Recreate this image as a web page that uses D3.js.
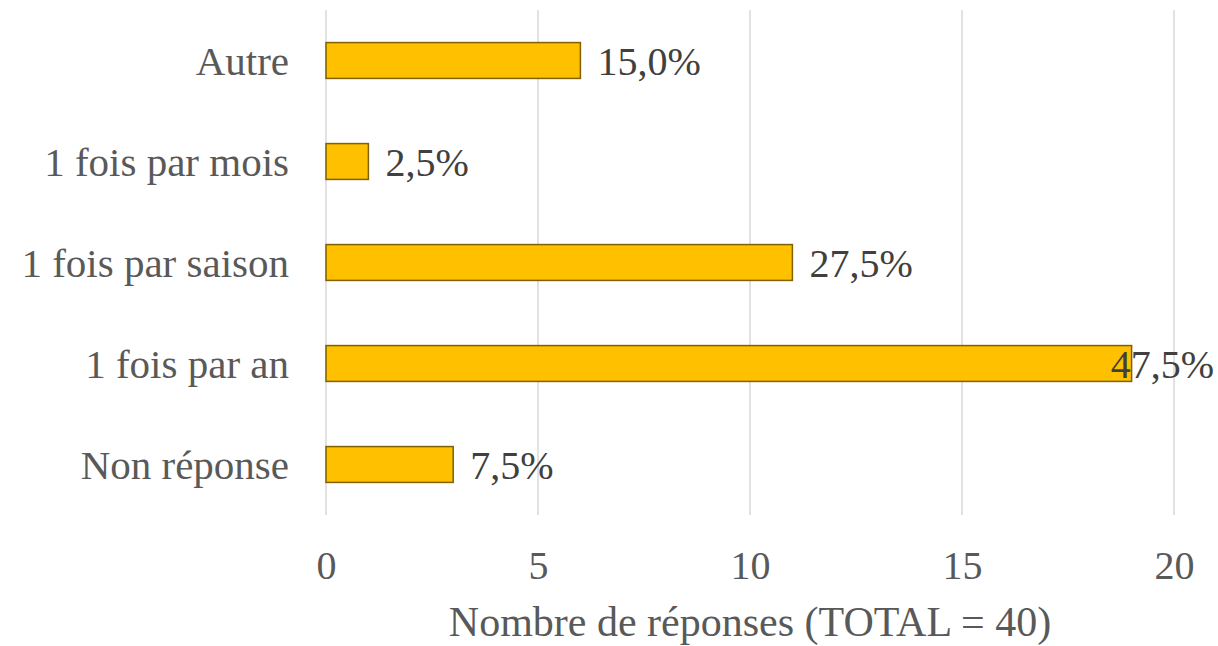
<!DOCTYPE html>
<html>
<head>
<meta charset="utf-8">
<script src="https://cdn.jsdelivr.net/npm/d3@7"></script>
<style>
  html, body { margin: 0; padding: 0; background: #ffffff; }
  svg { display: block; }
  text { font-family: "Liberation Serif", "DejaVu Serif", serif; }
</style>
</head>
<body>
<svg id="chart" width="1218" height="646"></svg>
<script>
// Fréquence des réponses (TOTAL = 40)
const categories = ["Autre", "1 fois par mois", "1 fois par saison", "1 fois par an", "Non réponse"];
const counts = [6, 1, 11, 19, 3];
const percentLabels = ["15,0%", "2,5%", "27,5%", "47,5%", "7,5%"];
const xTicks = [0, 5, 10, 15, 20];
const axisTitle = "Nombre de réponses (TOTAL = 40)";

const svg = d3.select("#chart");
const W = 1218, H = 646;
const margin = { left: 326, right: 44, top: 10, bottom: 131 };
const plotRight = W - margin.right;
const plotBottom = H - margin.bottom;

const x = d3.scaleLinear().domain([0, 20]).range([margin.left, plotRight]);
const y = d3.scaleBand().domain(categories).range([margin.top, plotBottom]).paddingInner(0.645).paddingOuter(0.3225);

// Vertical gridlines
svg.append("g")
  .selectAll("line")
  .data(xTicks)
  .join("line")
  .attr("x1", d => x(d)).attr("x2", d => x(d))
  .attr("y1", margin.top).attr("y2", plotBottom)
  .attr("stroke", "#d9d9d9").attr("stroke-width", 1.5);

// Bars
svg.append("g")
  .selectAll("rect")
  .data(categories)
  .join("rect")
  .attr("x", x(0))
  .attr("y", d => y(d))
  .attr("width", (d, i) => x(counts[i]) - x(0))
  .attr("height", y.bandwidth())
  .attr("fill", "#ffc000")
  .attr("stroke", "#806000")
  .attr("stroke-width", 1.5);

// Value labels (percentage of total)
const labelG = svg.append("g");
categories.forEach((c, i) => {
  const t = labelG.append("text")
    .attr("x", x(counts[i]) + 17)
    .attr("y", y(c) + y.bandwidth() / 2)
    .attr("dy", "0.35em")
    .attr("font-size", 40)
    .attr("fill", "#404040")
    .text(percentLabels[i]);
  const w = t.node().getComputedTextLength();
  if (x(counts[i]) + 17 + w > W - 4) {
    t.attr("text-anchor", "end").attr("x", W - 4);
  }
});

// Category axis labels
svg.append("g")
  .selectAll("text")
  .data(categories)
  .join("text")
  .attr("x", margin.left - 37)
  .attr("y", d => y(d) + y.bandwidth() / 2)
  .attr("dy", "0.35em")
  .attr("text-anchor", "end")
  .attr("font-size", 41)
  .attr("fill", "#595959")
  .text(d => d);

// X axis tick labels
const xAxis = d3.axisBottom(x).tickValues(xTicks).tickSize(0).tickPadding(0);
const gx = svg.append("g")
  .attr("transform", `translate(0, ${plotBottom + 64})`)
  .call(xAxis);
gx.select(".domain").remove();
gx.selectAll("text")
  .attr("font-size", 40)
  .attr("fill", "#595959")
  .attr("font-family", "Liberation Serif, DejaVu Serif, serif")
  .attr("dy", "0")
  .attr("y", 0);

// Axis title
svg.append("text")
  .attr("x", (margin.left + plotRight) / 2)
  .attr("y", 636)
  .attr("text-anchor", "middle")
  .attr("font-size", 42)
  .attr("fill", "#595959")
  .text(axisTitle);
</script>
</body>
</html>
